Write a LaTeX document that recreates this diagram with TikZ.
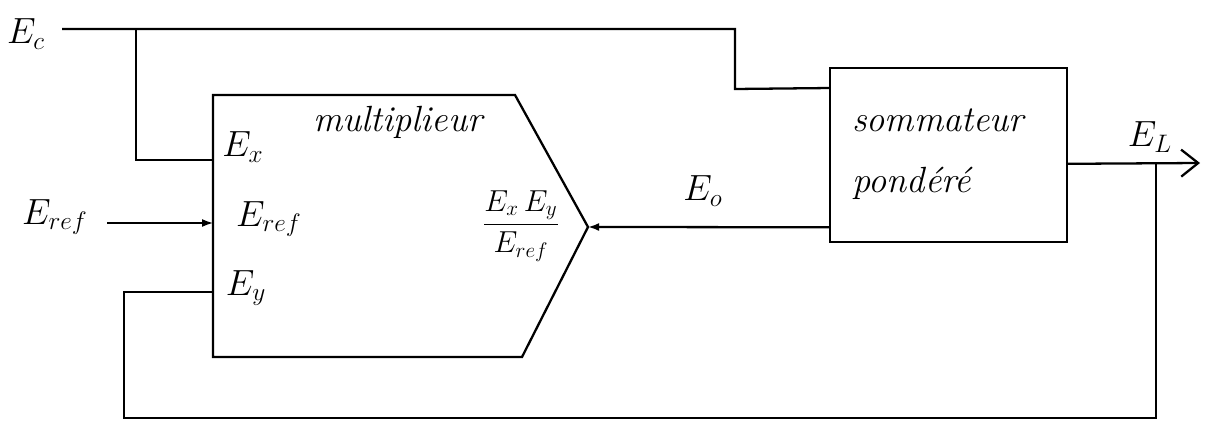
\documentclass[tikz,border=0pt]{standalone}
\usepackage{amsmath}
\usetikzlibrary{positioning, arrows.meta, calc}
\tikzset{
  wire/.style={line width=1.3pt},
  sig/.style={wire, -{Latex[length=2.2mm, width=1.6mm]}},
  outsig/.style={wire, -{Straight Barb[length=3.4mm, width=5.4mm]}},
  lbl/.style={font=\huge, inner sep=1pt},
  txt/.style={font=\huge\itshape, inner sep=1pt, align=left},
  block/.style={rectangle, draw, line width=1.3pt, minimum width=4.74cm, minimum height=3.48cm},
}

\begin{document}
\begin{tikzpicture}[x=0.02cm, y=-0.02cm]
    \useasboundingbox (0,0) rectangle (1206,422);
    % multiplieur
    \coordinate (mnw) at (213,95);  \coordinate (mne) at (515,95);
    \coordinate (mtip) at (588,227);
    \coordinate (mse) at (522,357); \coordinate (msw) at (213,357);
    \draw[wire] (mnw) -- (mne) -- (mtip) -- (mse) -- (msw) -- cycle;
    \coordinate (mx) at (213,160); \coordinate (mref) at (213,223); \coordinate (my) at (213,292);
    \node[txt] (mul) at (398,122) {multiplieur};
    \node[lbl] (lx) at (243,147) {$E_x$};
    \node[lbl] (lref) at (269,219) {$E_{ref}$};
    \node[lbl] (ly) at (246,288) {$E_y$};
    \node[font=\LARGE, inner sep=1pt] (frac) at (521,226) {$\dfrac{E_x\,E_y}{E_{ref}}$};
    % sommateur
    \node[block] (sum) at (948.5,155) {};
    \node[txt] (sumtxt) at (938,154) {sommateur\\[10pt]pond\'er\'e};
    \coordinate (s1) at ($(sum.north west)!0.12!(sum.south west)$);
    \coordinate (s2) at ($(sum.north west)!0.91!(sum.south west)$);
    \coordinate (s3) at ($(sum.north east)!0.55!(sum.south east)$);
    % entrees
    \node[lbl] (Ec) at (26,34) {$E_c$};
    \coordinate (ec) at (62,29);
    \draw[wire] (ec) -- (735,29) -- (735,89) -- (s1);
    \draw[wire] (136,29) -- (136,160) -- (mx);
    \node[lbl] (Eref) at (55,217) {$E_{ref}$};
    \draw[sig, line width=0.9pt] (107,223) -- (mref);
    % sortie
    \node[lbl] (Eo) at (703,191) {$E_o$};
    \draw[sig] (s2) -- (mtip);
    \coordinate (el) at (1200,163);
    \draw[outsig] (s3) -- (el);
    \node[lbl] (EL) at (1150,137) {$E_L$};
    % boucle
    \draw[wire] (my) -- (124,292) -- (124,418) -- (1156,418) -- (1156,163);
  \end{tikzpicture}
\end{document}
